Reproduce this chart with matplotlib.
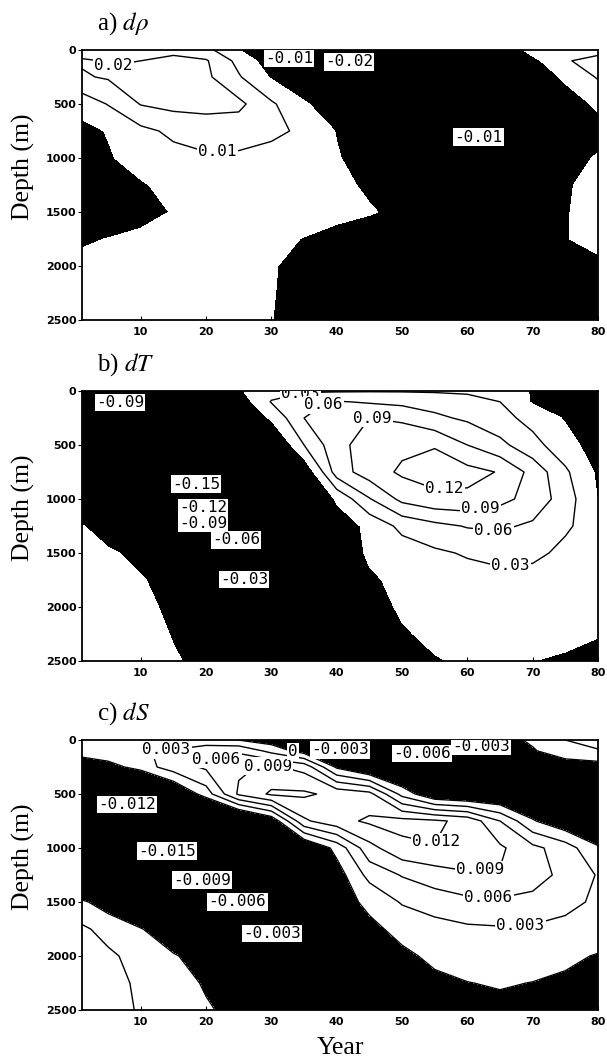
import numpy as np
import matplotlib
matplotlib.use("Agg")
import matplotlib.pyplot as plt

plt.rcParams['mathtext.fontset'] = 'stix'
plt.rcParams['font.family'] = 'DejaVu Sans'

# grid
years = [1, 5, 10, 15, 20, 25, 30, 35, 40, 45, 50, 55, 60, 65, 70, 75, 80]
depths = [0, 100, 250, 500, 750, 1000, 1250, 1500, 1750, 2000, 2250, 2500]

# a) density anomaly (units 1e-3)
drho_milli = [
    [16, 17, 18, 19, 13, 0.3, -10, -15, -20, -24, -22, -20, -17, -10, 4, 8, 8],
    [21, 19.5, 20, 21, 21, 7, -6, -12, -19, -22, -21, -19, -16, -9, -3, 9.5, 12],
    [19, 21, 22, 22.5, 22, 11, -1, -10, -16, -20, -20, -18, -15, -10, -4, 1, 11],
    [4, 10.5, 20.5, 23, 23, 22.5, 11.5, 1.5, -8, -14, -16, -15, -13, -9, -6, -3, 1],
    [-3, 0.6, 7.5, 12, 15, 14, 12.5, 8, -0.5, -7, -11, -12, -10.5, -9, -7, -4, -2],
    [-6, -1, 4, 7, 8.5, 8.5, 6, 4, 0.8, -5, -9, -11, -10.5, -9, -6, -2, 0.5],
    [-7, -5, -1, 3, 5, 6, 5, 4, 2, -1.3, -6, -8, -8, -6, -4, -1, 3],
    [-6, -5, -3, 0.5, 3, 4, 4, 3.5, 2.5, 0.7, -2, -5, -6, -5, -3, -0.5, 3],
    [-1, 0.2, 2, 3, 3.5, 3, 2, -0.3, -3, -5, -6, -6, -6, -5, -3, -0.3, 2],
    [2, 3, 3, 3, 3, 2, 0.5, -2, -4, -5, -6, -6, -6, -5, -4, -3, -1.5],
    [2, 2.5, 2.5, 2.5, 2.5, 1.5, 0.3, -2, -4, -5, -6, -6, -6, -5, -4, -3, -2],
    [2, 2, 2, 2, 2, 1.2, 0.1, -2, -4, -5, -6, -6, -6, -5, -4, -3, -2],
]

# b) temperature anomaly (units 1e-3)
dT_milli = [
    [-80, -84, -85, -70, -45, -3, 18, 26, 27, 28, 28, 27, 24, 14, -2, -15, -25],
    [-86, -88, -92, -90, -60, -20, 32, 55, 62, 57, 52, 48, 44, 30, -3, -12, -20],
    [-88, -98, -110, -110, -90, -40, 5, 60, 80, 90, 85, 66, 55, 40, 20, -3, -15],
    [-95, -120, -140, -145, -130, -95, -45, 30, 80, 105, 113, 118, 90, 68, 40, 12, -15],
    [-100, -135, -158, -165, -160, -130, -90, -30, 75, 105, 125, 133, 130, 118, 80, 35, -5],
    [-80, -110, -130, -138, -135, -115, -95, -60, 5, 58, 98, 112, 113, 98, 80, 45, -1],
    [3, -30, -70, -90, -85, -70, -55, -40, -20, 8, 38, 52, 62, 65, 55, 33, 20],
    [18, 8, -15, -40, -50, -50, -42, -30, -15, 3, 15, 25, 33, 38, 35, 25, 15],
    [22, 15, 4, -20, -30, -30, -28, -20, -10, -3, 5, 12, 18, 22, 22, 18, 12],
    [25, 20, 12, -10, -18, -20, -18, -15, -10, -6, 2, 8, 12, 14, 14, 12, 8],
    [27, 22, 14, -2, -12, -14, -12, -10, -8, -5, -1.5, 3, 6, 7, 6, 4, 0.5],
    [27, 22, 15, 3, -8, -10, -9, -8, -6, -4, -3, -1, 2, 2, 0.1, -2, -3],
]

# c) salinity anomaly (units 1e-4)
dS_e4 = [
    [6, 8, 10, 15, 12, -0.5, -15, -25, -32, -40, -50, -48, -25, -12, 5, 30, 40],
    [26, 27, 29, 32, 48, 55, 20, -15, -28, -45, -60, -62, -45, -30, -3, 20, 28],
    [-40, -15, 15, 45, 65, 85, 95, 80, -5, -40, -55, -55, -50, -40, -30, -20, -15],
    [-105, -115, -110, -40, 15, 95, 125, 125, 112, 100, 20, -30, -40, -40, -38, -30, -25],
    [-110, -128, -135, -125, -100, -70, -25, 85, 110, 125, 130, 125, 112, 60, 3, -25, -30],
    [-130, -140, -152, -155, -130, -110, -80, -40, 10, 80, 112, 119, 118, 95, 68, 45, 3],
    [-60, -100, -120, -115, -95, -85, -65, -40, -15, 40, 62, 75, 85, 88, 75, 50, 28],
    [5, -15, -50, -65, -60, -60, -45, -30, -10, 5, 33, 45, 53, 55, 50, 38, 25],
    [35, 20, 2, -25, -30, -35, -32, -22, -14, -5, 6, 18, 25, 27, 26, 22, 18],
    [50, 35, 20, 3, -15, -22, -22, -18, -14, -10, -4, 4, 10, 12, 11, 6, -2],
    [55, 40, 25, 12, -3, -12, -14, -13, -12, -10, -7, -4, -0.5, 2, -0.5, -5, -10],
    [55, 42, 27, 15, 3, -8, -10, -10, -10, -10, -9, -8, -7, -6, -7, -9, -12],
]

rho_levels = [-0.02, -0.01, 0.01, 0.02]
T_levels = [-0.15, -0.12, -0.09, -0.06, -0.03, 0.03, 0.06, 0.09, 0.12]
S_levels = [-0.015, -0.012, -0.009, -0.006, -0.003, 0.0, 0.003, 0.006, 0.009, 0.012]

# (level, year, depth) of each contour label
rho_labels = [(0.02, 5.8, 139), (0.01, 21.7, 907), (-0.01, 33.0, 40),
              (-0.02, 42.0, 100), (-0.01, 60.4, 806)]
T_labels = [(0.03, 34.5, 30), (0.06, 37.5, 90), (0.09, 45.5, 230),
            (0.12, 56.5, 930), (0.09, 62.0, 1089), (0.06, 64.0, 1303),
            (0.03, 66.6, 1625), (-0.09, 7.0, 169), (-0.15, 18.6, 920),
            (-0.12, 19.5, 1040), (-0.09, 19.5, 1200), (-0.06, 24.6, 1380),
            (-0.03, 25.8, 1748)]
S_labels = [(0.003, 14.0, 157), (0.006, 21.6, 190), (0.009, 29.5, 250),
            (0.012, 55.8, 960), (0.009, 62.0, 1215), (0.006, 63.2, 1440),
            (0.003, 68.1, 1700), (0.0, 33.3, 111), (-0.003, 41.0, 70),
            (-0.006, 53.0, 130), (-0.003, 62.0, 70), (-0.012, 7.9, 630),
            (-0.015, 14.0, 1000), (-0.009, 19.3, 1281), (-0.006, 24.8, 1481),
            (-0.003, 30.3, 1805)]

panels = [
    ("a) ", r"$\mathit{d}\rho$", drho_milli, 1e-3, rho_levels, rho_labels, 50),
    ("b) ", r"$\mathit{dT}$", dT_milli, 1e-3, T_levels, T_labels, 391),
    ("c) ", r"$\mathit{dS}$", dS_e4, 1e-4, S_levels, S_labels, 740),
]

W, H = 607, 1061
fig = plt.figure(figsize=(W / 100, H / 100), dpi=100)
X, Y = np.meshgrid(years, depths)


def fmt(v):
    return '%g' % v


for letter, sym, field, scale, levels, labels, top in panels:
    ax = fig.add_axes([82 / W, 1 - (top + 270) / H, 516 / W, 270 / H])
    Z = np.array(field, dtype=float) * scale
    ax.contourf(X, Y, Z, levels=[-1.0, 0.0, 1.0], colors=['black', 'white'])
    sets = {}
    for lev in levels:
        sets[lev] = ax.contour(X, Y, Z, levels=[lev], colors='black',
                               linewidths=1.0)
    with plt.rc_context({'font.family': 'DejaVu Sans Mono'}):
        for lev, lx, ly in labels:
            cs = sets[lev]
            txts = cs.clabel(manual=[(lx, ly)], inline=False, fmt=fmt,
                             fontsize=11.5)
            if len(txts):
                t = txts[-1]
                t.set_rotation(0)
                t.set_bbox(dict(boxstyle='square,pad=0.08',
                                fc='white', ec='none'))
                t.set_zorder(5)
    ax.set_xlim(1, 80)
    ax.set_ylim(2500, 0)
    ax.set_xticks([10, 20, 30, 40, 50, 60, 70, 80])
    ax.set_yticks([0, 500, 1000, 1500, 2000, 2500])
    ax.tick_params(axis='x', direction='in', length=3, pad=5, labelsize=8)
    ax.tick_params(axis='y', direction='out', length=3, pad=1, labelsize=8)
    for lab in ax.get_xticklabels() + ax.get_yticklabels():
        lab.set_fontweight('bold')
    for sp in ax.spines.values():
        sp.set_linewidth(1.3)
    fig.text(97 / W, 1 - (top - 26) / H, letter + sym, fontsize=18,
             family='Liberation Serif', ha='left', va='center')
    fig.text(23 / W, 1 - (top + 117) / H, 'Depth (m)', fontsize=18.5,
             family='Liberation Serif', rotation=90, ha='center', va='center')

fig.text(340 / W, 1 - 1048 / H, 'Year', fontsize=18.5, family='Liberation Serif',
         ha='center', va='center')

fig.savefig('out.png', dpi=100)
